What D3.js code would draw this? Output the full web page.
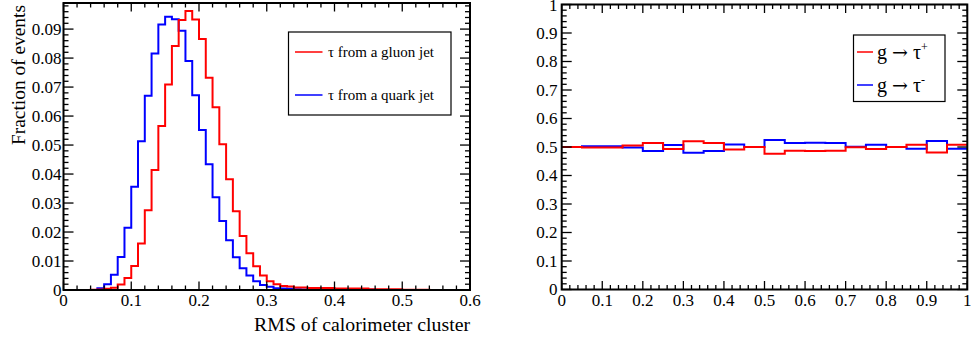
<!DOCTYPE html>
<html><head><meta charset="utf-8">
<script src="https://cdn.jsdelivr.net/npm/d3@7"></script>
<style>
body{margin:0;background:#fff}
svg{display:block}
text{font-family:"Liberation Serif","Times New Roman",serif;fill:#000}
</style>
</head><body>
<svg id="c" width="973" height="341"></svg>
<script>
// ---------- DATA ----------
// Left panel: RMS of calorimeter cluster, 60 bins of width 0.01 from 0 to 0.6
const rmsBinWidth = 0.01;
const rmsBinStart = 0;
const gluonJet = [
  0, 0, 0, 0, 0.0001, 0.0002, 0.0004, 0.0008, 0.0019, 0.0041,
  0.0083, 0.0160, 0.0275, 0.0414, 0.0566, 0.0709, 0.0842, 0.0931, 0.0962, 0.0933,
  0.0866, 0.0732, 0.0630, 0.0503, 0.0382, 0.0272, 0.0186, 0.0127, 0.0082, 0.0050,
  0.0030, 0.0020, 0.0014, 0.0012, 0.0009, 0.0009, 0.0007, 0.0007, 0.0007, 0.0007,
  0.0005, 0.0005, 0.0005, 0.0005, 0.0005, 0.0003, 0.0003, 0.0003, 0.0003, 0.0003,
  0.0001, 0.0001, 0.0001, 0.0001, 0, 0, 0, 0, 0, 0
];
const quarkJet = [
  0, 0, 0, 0, 0, 0.0006, 0.0020, 0.0053, 0.0114, 0.0215,
  0.0356, 0.0513, 0.0670, 0.0816, 0.0916, 0.0943, 0.0934, 0.0894, 0.0790, 0.0672,
  0.0552, 0.0434, 0.0320, 0.0238, 0.0172, 0.0113, 0.0075, 0.0050, 0.0030, 0.0017,
  0.0011, 0.0006, 0.0005, 0.0004, 0.0003, 0.0002, 0.0002, 0.0002, 0.0002, 0.0002,
  0.0001, 0.0001, 0.0001, 0.0001, 0.0001, 0.0001, 0, 0, 0, 0,
  0, 0, 0, 0, 0, 0, 0, 0, 0, 0
];
const leftXTicks = [0, 0.1, 0.2, 0.3, 0.4, 0.5, 0.6];
const leftYTicks = [0, 0.01, 0.02, 0.03, 0.04, 0.05, 0.06, 0.07, 0.08, 0.09];
const leftLegend = ["τ from a gluon jet", "τ from a quark jet"];
const leftXTitle = "RMS of calorimeter cluster";
const leftYTitle = "Fraction of events";

// Right panel: 20 bins of width 0.05 from 0 to 1
const chgBinWidth = 0.05;
const chgBinStart = 0;
const tauPlus = [
  0.500, 0.498, 0.498, 0.505, 0.514, 0.493, 0.520, 0.514, 0.491, 0.500,
  0.476, 0.487, 0.486, 0.487, 0.499, 0.493, 0.500, 0.508, 0.481, 0.508
];
const tauMinus = [
  0.500, 0.503, 0.503, 0.498, 0.486, 0.507, 0.480, 0.486, 0.509, 0.500,
  0.525, 0.514, 0.515, 0.514, 0.501, 0.508, 0.500, 0.494, 0.521, 0.494
];
const rightXTicks = [0, 0.1, 0.2, 0.3, 0.4, 0.5, 0.6, 0.7, 0.8, 0.9, 1];
const rightYTicks = [0, 0.1, 0.2, 0.3, 0.4, 0.5, 0.6, 0.7, 0.8, 0.9, 1];
const rightLegendSup = ["+", "-"];

const RED = "#ff0000", BLUE = "#0000ff";

// ---------- DRAW ----------
const svg = d3.select("#c");
const fmt = v => v === 0 ? "0" : (v === 1 ? "1" : String(+v.toFixed(2)));

function frame(x, y, xMajor, yMajor, xMinorStep, yMinorStep, yLabelEnd) {
  const g = svg.append("g");
  const [x0, x1] = x.range(), [y0, y1] = y.range();
  const xd = x.domain(), yd = y.domain();
  const xMinor = d3.range(xd[0], xd[1] + 1e-9, xMinorStep);
  const yMinor = d3.range(yd[0], yd[1] + 1e-9, yMinorStep);
  const tk = g.append("g").attr("stroke", "#000").attr("stroke-width", 1.3);
  xMinor.forEach(v => {
    const isMaj = xMajor.some(m => Math.abs(m - v) < 1e-9);
    const L = isMaj ? 8.5 : 4.5;
    tk.append("line").attr("x1", x(v)).attr("x2", x(v)).attr("y1", y0).attr("y2", y0 - L);
    tk.append("line").attr("x1", x(v)).attr("x2", x(v)).attr("y1", y1).attr("y2", y1 + L);
  });
  yMinor.forEach(v => {
    const isMaj = yMajor.some(m => Math.abs(m - v) < 1e-9);
    const L = isMaj ? 10 : 5;
    tk.append("line").attr("y1", y(v)).attr("y2", y(v)).attr("x1", x0).attr("x2", x0 + L);
    tk.append("line").attr("y1", y(v)).attr("y2", y(v)).attr("x1", x1).attr("x2", x1 - L);
  });
  g.append("rect").attr("x", x0).attr("y", y1).attr("width", x1 - x0).attr("height", y0 - y1)
    .attr("fill", "none").attr("stroke", "#000").attr("stroke-width", 2);
  g.selectAll(".xl").data(xMajor).join("text")
    .attr("x", d => x(d)).attr("y", 306).attr("text-anchor", "middle")
    .attr("font-size", 17).text(fmt);
  g.selectAll(".yl").data(yMajor).join("text")
    .attr("x", yLabelEnd).attr("y", d => Math.max(y(d), 5.5)).attr("dy", "0.34em").attr("text-anchor", "end")
    .attr("font-size", 17).text(fmt);
  return g;
}

function hist(x, y, start, width, values, color, clipId) {
  const pts = values.map((v, i) => [start + i * width, v]);
  pts.push([start + values.length * width, values[values.length - 1]]);
  svg.append("path")
    .attr("d", d3.line().x(d => x(d[0])).y(d => y(d[1])).curve(d3.curveStepAfter)(pts))
    .attr("fill", "none").attr("stroke", color).attr("stroke-width", 2)
    .attr("clip-path", `url(#${clipId})`);
}

function clip(id, x, y) {
  const [x0, x1] = x.range(), [y0, y1] = y.range();
  svg.append("clipPath").attr("id", id).append("rect")
    .attr("x", x0).attr("y", y1 - 1).attr("width", x1 - x0).attr("height", y0 - y1 + 2);
}

// Left panel
const xL = d3.scaleLinear().domain([0, 0.6]).range([63.5, 470]);
const yL = d3.scaleLinear().domain([0, 0.099]).range([290, 3]);
clip("clipL", xL, yL);
hist(xL, yL, rmsBinStart, rmsBinWidth, quarkJet, BLUE, "clipL");
hist(xL, yL, rmsBinStart, rmsBinWidth, gluonJet, RED, "clipL");
frame(xL, yL, leftXTicks, leftYTicks, 0.02, 0.002, 61.5);

svg.append("text").attr("x", 470).attr("y", 331).attr("text-anchor", "end")
  .attr("font-size", 19.8).text(leftXTitle);
svg.append("text").attr("transform", "translate(25,5) rotate(-90)").attr("text-anchor", "end")
  .attr("font-size", 19.4).text(leftYTitle);

// left legend
const lg = svg.append("g");
lg.append("rect").attr("x", 288.5).attr("y", 32).attr("width", 162.5).attr("height", 83)
  .attr("fill", "#fff").attr("stroke", "#000").attr("stroke-width", 1.2);
[[RED, 52, leftLegend[0]], [BLUE, 95, leftLegend[1]]].forEach(([c, yy, t]) => {
  lg.append("line").attr("x1", 295).attr("x2", 322.5).attr("y1", yy).attr("y2", yy)
    .attr("stroke", c).attr("stroke-width", 1.5);
  lg.append("text").attr("x", 328).attr("y", yy + 4.5).attr("font-size", 15).text(t);
});

// Right panel
const xR = d3.scaleLinear().domain([0, 1]).range([561.7, 967.3]);
const yR = d3.scaleLinear().domain([0, 1]).range([289.5, 4.5]);
clip("clipR", xR, yR);
hist(xR, yR, chgBinStart, chgBinWidth, tauMinus, BLUE, "clipR");
hist(xR, yR, chgBinStart, chgBinWidth, tauPlus, RED, "clipR");
frame(xR, yR, rightXTicks, rightYTicks, 0.02, 0.02, 557.5);

// right legend
const rg = svg.append("g");
rg.append("rect").attr("x", 853.5).attr("y", 35).attr("width", 91.5).attr("height", 66.5)
  .attr("fill", "#fff").attr("stroke", "#000").attr("stroke-width", 1.2);
[[RED, 52, rightLegendSup[0]], [BLUE, 85, rightLegendSup[1]]].forEach(([c, yy, sup]) => {
  rg.append("line").attr("x1", 857).attr("x2", 873).attr("y1", yy).attr("y2", yy)
    .attr("stroke", c).attr("stroke-width", 1.5);
  const t = rg.append("text").attr("x", 877).attr("y", yy + 6.5).attr("font-size", 20);
  t.append("tspan").text("g ");
  t.append("tspan").attr("font-family", "DejaVu Serif").attr("font-size", 19).text("→");
  t.append("tspan").text(" τ");
  t.append("tspan").attr("font-size", 12).attr("dy", -8).text(sup);
});
</script>
</body></html>
